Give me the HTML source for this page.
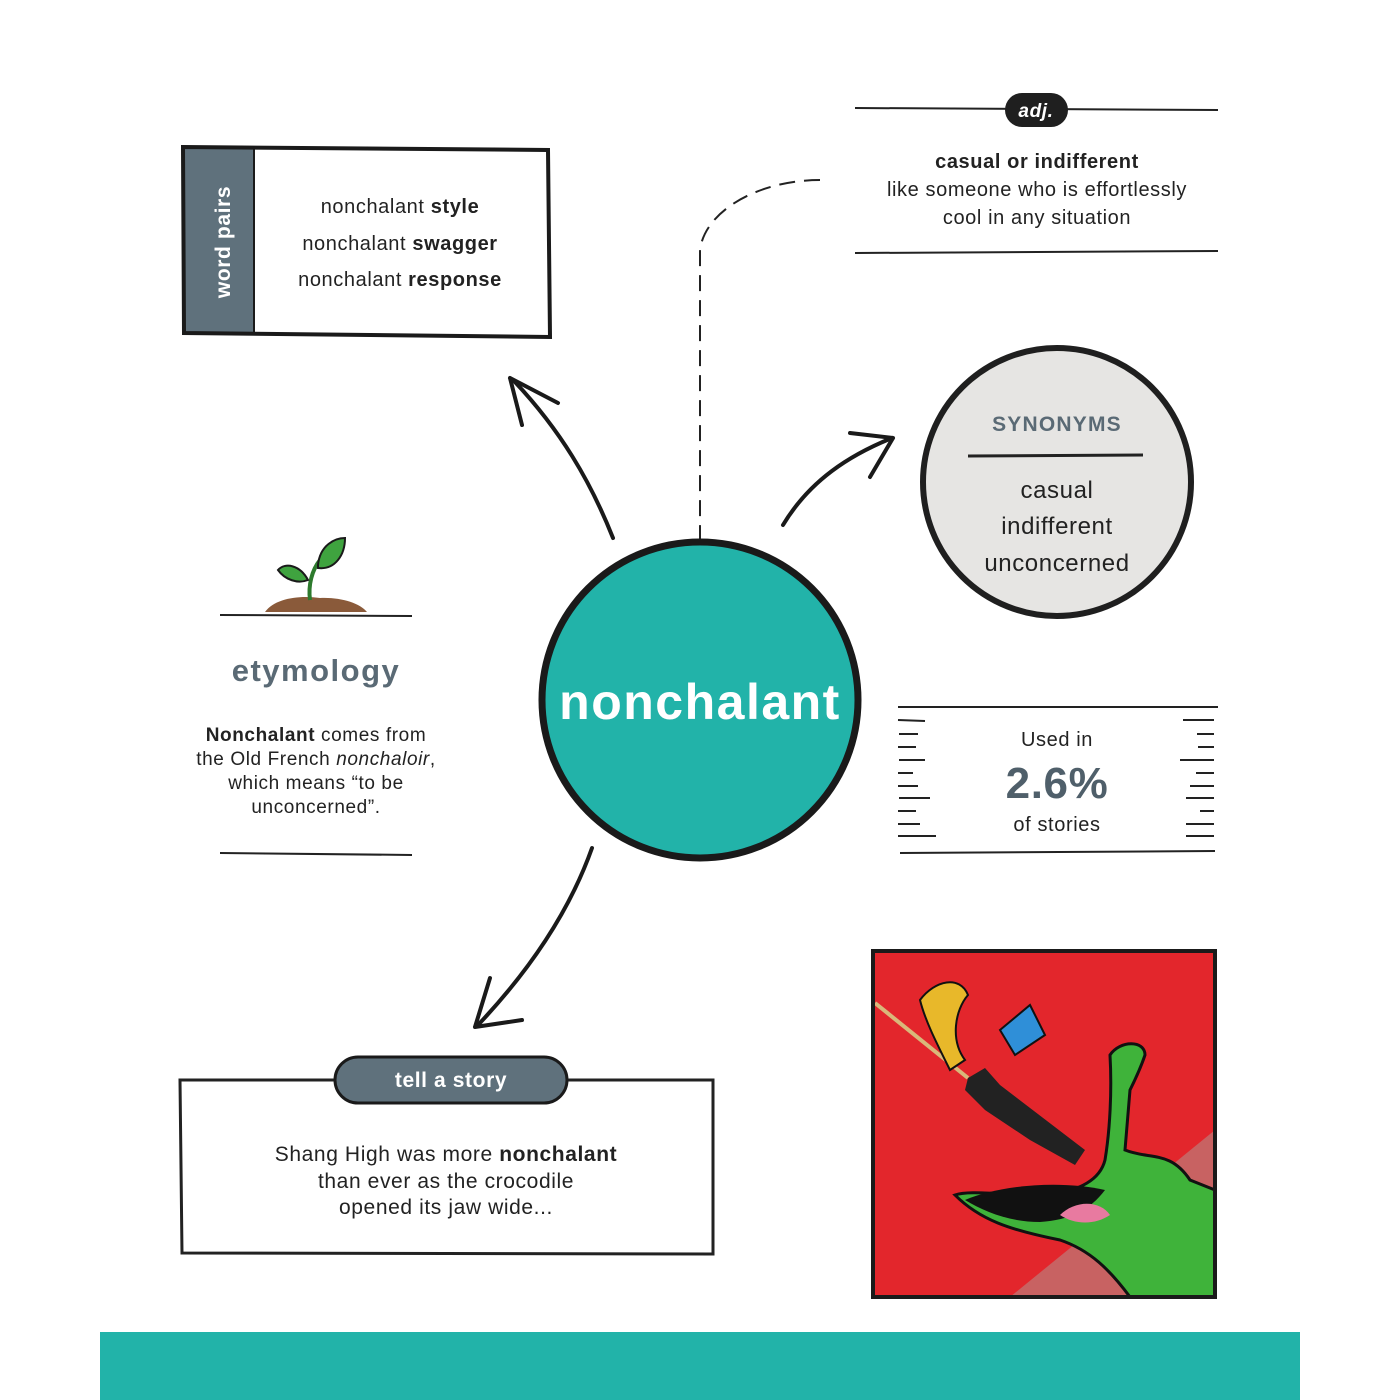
<!DOCTYPE html>
<html><head><meta charset="utf-8"><style>
html,body{margin:0;padding:0;background:#fff}
svg{display:block}
text{font-family:"Liberation Sans",sans-serif;letter-spacing:0.6px}
</style></head><body>
<svg width="1400" height="1400" viewBox="0 0 1400 1400" xmlns="http://www.w3.org/2000/svg">
<rect width="1400" height="1400" fill="#fff"/>
<!-- word pairs -->
<rect x="184" y="148" width="70" height="186" fill="#5f717c"/>
<path d="M183 147 L548 150 L550 337 L184 333 Z" fill="none" stroke="#1a1a1a" stroke-width="4"/>
<line x1="254" y1="148" x2="254" y2="333" stroke="#1a1a1a" stroke-width="2"/>
<text transform="translate(230,242) rotate(-90)" text-anchor="middle" font-size="21" font-weight="bold" fill="#fff">word pairs</text>
<g font-size="20" fill="#222" text-anchor="middle" style="letter-spacing:1px">
<text x="400" y="213">nonchalant <tspan font-weight="bold">style</tspan></text>
<text x="400" y="250">nonchalant <tspan font-weight="bold">swagger</tspan></text>
<text x="400" y="286">nonchalant <tspan font-weight="bold">response</tspan></text>
</g>
<!-- adj -->
<line x1="855" y1="108" x2="1218" y2="110" stroke="#222" stroke-width="2"/>
<rect x="1005" y="93" width="63" height="34" rx="17" fill="#1f1f1f"/>
<text x="1036" y="117" text-anchor="middle" font-size="19" font-weight="bold" font-style="italic" fill="#fff">adj.</text>
<g font-size="20" fill="#222" text-anchor="middle" style="letter-spacing:1px">
<text x="1037" y="168" font-weight="bold">casual or indifferent</text>
<text x="1037" y="196">like someone who is effortlessly</text>
<text x="1037" y="224">cool in any situation</text>
</g>
<line x1="855" y1="253" x2="1218" y2="251" stroke="#222" stroke-width="2"/>
<path d="M820 180 C760 180 705 210 700 250 L700 540" fill="none" stroke="#222" stroke-width="2" stroke-dasharray="16 9"/>
<!-- synonyms -->
<circle cx="1057" cy="482" r="134" fill="#e6e5e3" stroke="#1f1f1f" stroke-width="6"/>
<text x="1057" y="431" text-anchor="middle" font-size="21" font-weight="bold" fill="#5a6a75" style="letter-spacing:1.2px">SYNONYMS</text>
<line x1="968" y1="456" x2="1143" y2="455" stroke="#222" stroke-width="3"/>
<g font-size="24" fill="#222" text-anchor="middle" style="letter-spacing:1.2px">
<text x="1057" y="498">casual</text>
<text x="1057" y="534">indifferent</text>
<text x="1057" y="571">unconcerned</text>
</g>
<!-- arrows -->
<g fill="none" stroke="#1a1a1a" stroke-width="4" stroke-linecap="round">
<path d="M613 538 C590 480 560 430 515 382"/>
<path d="M510 378 L522 425 M510 378 L558 403"/>
<path d="M783 525 C810 480 850 455 892 438"/>
<path d="M893 438 L850 433 M893 438 L870 477"/>
<path d="M592 848 C570 910 530 970 478 1025"/>
<path d="M475 1027 L490 978 M475 1027 L522 1020"/>
</g>
<!-- center -->
<circle cx="700" cy="700" r="158" fill="#22b3a9" stroke="#1a1a1a" stroke-width="7"/>
<text x="700" y="719" text-anchor="middle" font-size="50" font-weight="bold" fill="#fff" style="letter-spacing:1.5px">nonchalant</text>
<!-- etymology -->
<path d="M265 612 C275 598 300 595 320 598 C340 597 360 603 367 612 Z" fill="#8a5a3a"/>
<path d="M310 600 C308 585 312 570 320 560" fill="none" stroke="#2d7a2d" stroke-width="4"/>
<path d="M318 565 C320 545 335 538 345 538 C345 555 335 570 318 568 Z" fill="#3fa33f" stroke="#1a1a1a" stroke-width="2"/>
<path d="M308 580 C300 565 285 562 278 570 C285 580 298 584 308 580 Z" fill="#3fa33f" stroke="#1a1a1a" stroke-width="2"/>
<line x1="220" y1="615" x2="412" y2="616" stroke="#222" stroke-width="2"/>
<text x="316" y="681" text-anchor="middle" font-size="31" font-weight="bold" fill="#5a6a75" style="letter-spacing:1.5px">etymology</text>
<g font-size="19" fill="#222" text-anchor="middle" style="letter-spacing:1px">
<text x="316" y="741"><tspan font-weight="bold">Nonchalant</tspan> comes from</text>
<text x="316" y="765">the Old French <tspan font-style="italic">nonchaloir</tspan>,</text>
<text x="316" y="789">which means “to be</text>
<text x="316" y="813">unconcerned”.</text>
</g>
<line x1="220" y1="853" x2="412" y2="855" stroke="#222" stroke-width="2"/>
<!-- stats -->
<line x1="898" y1="707" x2="1218" y2="707" stroke="#222" stroke-width="2"/>
<line x1="900" y1="853" x2="1215" y2="851" stroke="#222" stroke-width="2"/>
<g stroke="#222" stroke-width="2">
<line x1="898" y1="720" x2="925" y2="721"/><line x1="899" y1="734" x2="918" y2="734"/><line x1="898" y1="747" x2="916" y2="747"/><line x1="899" y1="760" x2="925" y2="760"/><line x1="898" y1="773" x2="913" y2="773"/><line x1="898" y1="786" x2="918" y2="786"/><line x1="899" y1="798" x2="930" y2="798"/><line x1="898" y1="811" x2="916" y2="811"/><line x1="898" y1="824" x2="920" y2="824"/><line x1="898" y1="836" x2="936" y2="836"/>
<line x1="1183" y1="720" x2="1214" y2="720"/><line x1="1197" y1="734" x2="1214" y2="734"/><line x1="1198" y1="747" x2="1214" y2="747"/><line x1="1180" y1="760" x2="1214" y2="760"/><line x1="1196" y1="773" x2="1214" y2="773"/><line x1="1190" y1="786" x2="1214" y2="786"/><line x1="1186" y1="798" x2="1214" y2="798"/><line x1="1200" y1="811" x2="1214" y2="811"/><line x1="1186" y1="824" x2="1214" y2="824"/><line x1="1186" y1="836" x2="1214" y2="836"/>
</g>
<text x="1057" y="746" text-anchor="middle" font-size="20" fill="#222">Used in</text>
<text x="1057" y="798" text-anchor="middle" font-size="44" font-weight="bold" fill="#4f5f6a">2.6%</text>
<text x="1057" y="831" text-anchor="middle" font-size="20" fill="#222">of stories</text>
<!-- story -->
<path d="M180 1080 L713 1080 L713 1254 L182 1253 Z" fill="none" stroke="#222" stroke-width="3"/>
<rect x="335" y="1057" width="232" height="46" rx="23" fill="#5f717c" stroke="#1a1a1a" stroke-width="3"/>
<text x="451" y="1087" text-anchor="middle" font-size="21" font-weight="bold" fill="#fff">tell a story</text>
<g font-size="21" fill="#222" text-anchor="middle" style="letter-spacing:1.2px">
<text x="446" y="1161">Shang High was more <tspan font-weight="bold">nonchalant</tspan></text>
<text x="446" y="1188">than ever as the crocodile</text>
<text x="446" y="1214">opened its jaw wide...</text>
</g>
<!-- illustration -->
<rect x="873" y="951" width="342" height="346" fill="#e3262c"/>
<path d="M1010 1297 L1215 1130 L1215 1297 Z" fill="#c86262"/>
<path d="M1110 1055 C1120 1040 1145 1040 1145 1055 C1140 1070 1135 1080 1130 1090 L1125 1150 C1150 1160 1170 1150 1190 1180 L1215 1190 L1215 1297 L1130 1297 C1110 1270 1090 1250 1060 1240 C1010 1230 980 1220 955 1195 C970 1190 1000 1195 1050 1195 C1080 1190 1100 1180 1105 1160 C1110 1130 1112 1090 1110 1055 Z" fill="#3fb33a" stroke="#111" stroke-width="3"/>
<path d="M965 1200 C1000 1185 1060 1180 1105 1190 C1090 1210 1070 1220 1040 1222 C1010 1222 985 1212 965 1200 Z" fill="#111"/>
<path d="M1060 1215 C1075 1200 1100 1200 1110 1215 C1095 1225 1075 1225 1060 1215 Z" fill="#e87aa0"/>
<line x1="875" y1="1003" x2="968" y2="1078" stroke="#d9b87a" stroke-width="4"/>
<path d="M968 1078 L985 1068 L1000 1085 L1085 1150 L1075 1165 L1030 1140 L985 1110 L965 1090 Z" fill="#222"/>
<path d="M920 1000 C935 980 960 975 968 995 C955 1010 950 1040 965 1060 L950 1070 C935 1040 925 1020 920 1000 Z" fill="#e8b82a" stroke="#111" stroke-width="2"/>
<path d="M1000 1030 L1030 1005 L1045 1035 L1015 1055 Z" fill="#2f8fd8" stroke="#111" stroke-width="2"/>
<rect x="873" y="951" width="342" height="346" fill="none" stroke="#1a1a1a" stroke-width="4"/>
<!-- bottom bar -->
<rect x="100" y="1332" width="1200" height="68" fill="#22b3a9"/>
</svg>
</body></html>
